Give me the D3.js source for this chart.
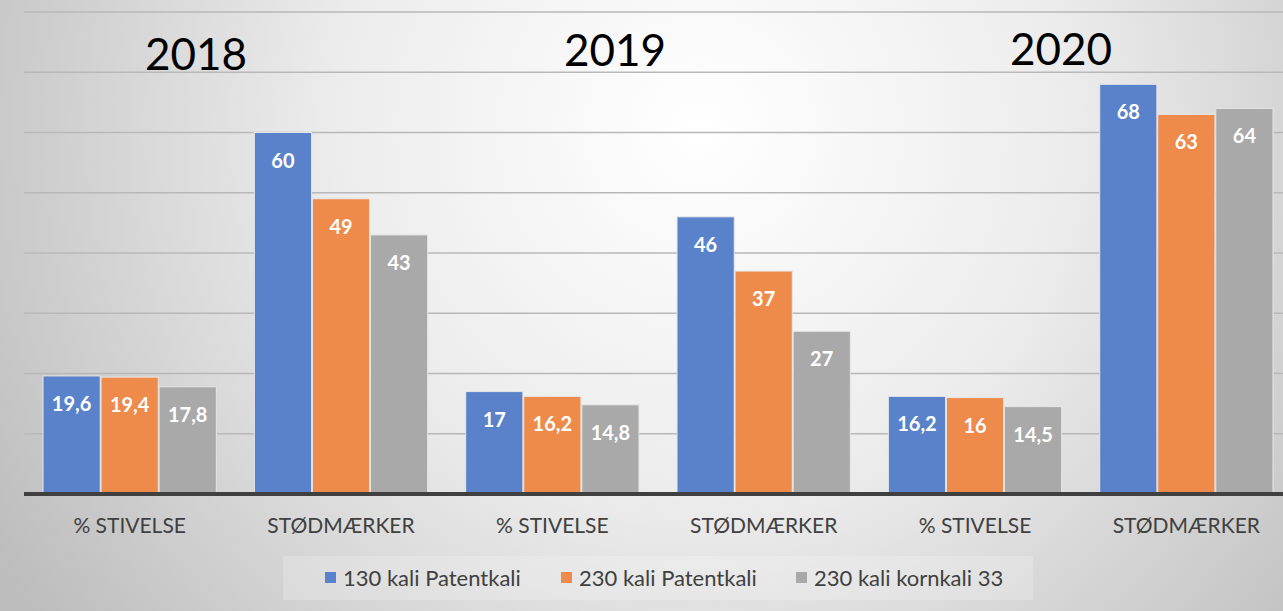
<!DOCTYPE html>
<html>
<head>
<meta charset="utf-8">
<script src="https://cdn.jsdelivr.net/npm/d3@7"></script>
<style>
  html, body { margin: 0; padding: 0; }
  svg { display: block; font-family: Lato, "Open Sans", sans-serif; }
</style>
</head>
<body>
<svg id="chart" width="1283" height="611"></svg>
<script>
// data
const categories = ["% STIVELSE", "STØDMÆRKER", "% STIVELSE", "STØDMÆRKER", "% STIVELSE", "STØDMÆRKER"];
const years = ["2018", "2019", "2020"];
const seriesNames = ["130 kali Patentkali", "230 kali Patentkali", "230 kali kornkali 33"];
const patent130 = [19.6, 60, 17, 46, 16.2, 68];
const patent230 = [19.4, 49, 16.2, 37, 16, 63];
const korn230 = [17.8, 43, 14.8, 27, 14.5, 64];
const yTicks = [10, 20, 30, 40, 50, 60, 70, 80];
const colors = ["#5a82ca", "#ee8b4b", "#a9a9a9"];

const series = [patent130, patent230, korn230];

const width = 1283, height = 611;
const svg = d3.select("#chart");

// background
const defs = svg.append("defs");
const grad = defs.append("radialGradient")
  .attr("id", "bg")
  .attr("gradientUnits", "userSpaceOnUse")
  .attr("cx", 700).attr("cy", 130).attr("r", 820);
grad.append("stop").attr("offset", "0%").attr("stop-color", "#ffffff");
grad.append("stop").attr("offset", "45%").attr("stop-color", "#ececec");
grad.append("stop").attr("offset", "100%").attr("stop-color", "#bdbdbd");
svg.append("rect").attr("width", width).attr("height", height).attr("fill", "url(#bg)");

const x = d3.scaleBand()
  .domain(d3.range(categories.length))
  .range([24, 1292])
  .paddingInner(0.18)
  .paddingOuter(0.09);

const xs = d3.scaleBand()
  .domain(d3.range(series.length))
  .range([0, x.bandwidth()])
  .paddingInner(0.015);

const y = d3.scaleLinear().domain([0, 80]).range([494, 12]);

// gridlines
svg.append("g")
  .selectAll("line")
  .data(yTicks)
  .join("line")
  .attr("x1", 24).attr("x2", width)
  .attr("y1", d => y(d)).attr("y2", d => y(d))
  .attr("stroke", "#b8b8b8")
  .attr("stroke-width", 1.5);

// bars
const groups = svg.append("g")
  .selectAll("g")
  .data(series)
  .join("g")
  .attr("fill", (d, i) => colors[i]);

groups.selectAll("rect")
  .data((d, si) => d.map((v, ci) => ({ v, ci, si })))
  .join("rect")
  .attr("x", d => x(d.ci) + xs(d.si))
  .attr("y", d => y(d.v))
  .attr("width", xs.bandwidth())
  .attr("height", d => y(0) - y(d.v))
  .attr("stroke", "#e6e6e6")
  .attr("stroke-width", 1);

// value labels
groups.selectAll("text")
  .data((d, si) => d.map((v, ci) => ({ v, ci, si })))
  .join("text")
  .attr("x", d => x(d.ci) + xs(d.si) + xs.bandwidth() / 2)
  .attr("y", d => y(d.v) + 35)
  .attr("text-anchor", "middle")
  .attr("fill", "#ffffff")
  .attr("font-weight", "bold")
  .attr("font-size", 20)
  .text(d => String(d.v).replace(".", ","));

// baseline
svg.append("line")
  .attr("x1", 24).attr("x2", width)
  .attr("y1", y(0)).attr("y2", y(0))
  .attr("stroke", "#404040")
  .attr("stroke-width", 4);

// category labels
svg.append("g")
  .selectAll("text")
  .data(categories)
  .join("text")
  .attr("x", (d, i) => x(i) + x.bandwidth() / 2)
  .attr("y", 533)
  .attr("text-anchor", "middle")
  .attr("fill", "#404040")
  .attr("font-size", 21)
  .text(d => d);

// year titles
const yearPos = [[196, 70], [615, 66], [1061, 65]];
svg.append("g")
  .selectAll("text")
  .data(years)
  .join("text")
  .attr("x", (d, i) => yearPos[i][0])
  .attr("y", (d, i) => yearPos[i][1])
  .attr("text-anchor", "middle")
  .attr("fill", "#000000")
  .attr("font-size", 44)
  .text(d => d);

// legend
svg.append("rect")
  .attr("x", 283).attr("y", 556).attr("width", 750).attr("height", 44)
  .attr("fill", "#ffffff").attr("opacity", 0.2);

const legendX = [325, 561, 796];
const legend = svg.append("g")
  .selectAll("g")
  .data(seriesNames)
  .join("g")
  .attr("transform", (d, i) => `translate(${legendX[i]}, 578)`);
legend.append("rect")
  .attr("x", 0).attr("y", -6).attr("width", 11).attr("height", 11)
  .attr("fill", (d, i) => colors[i]);
legend.append("text")
  .attr("x", 18).attr("y", 8)
  .attr("fill", "#404040")
  .attr("font-size", 22)
  .text(d => d);
</script>
</body>
</html>
